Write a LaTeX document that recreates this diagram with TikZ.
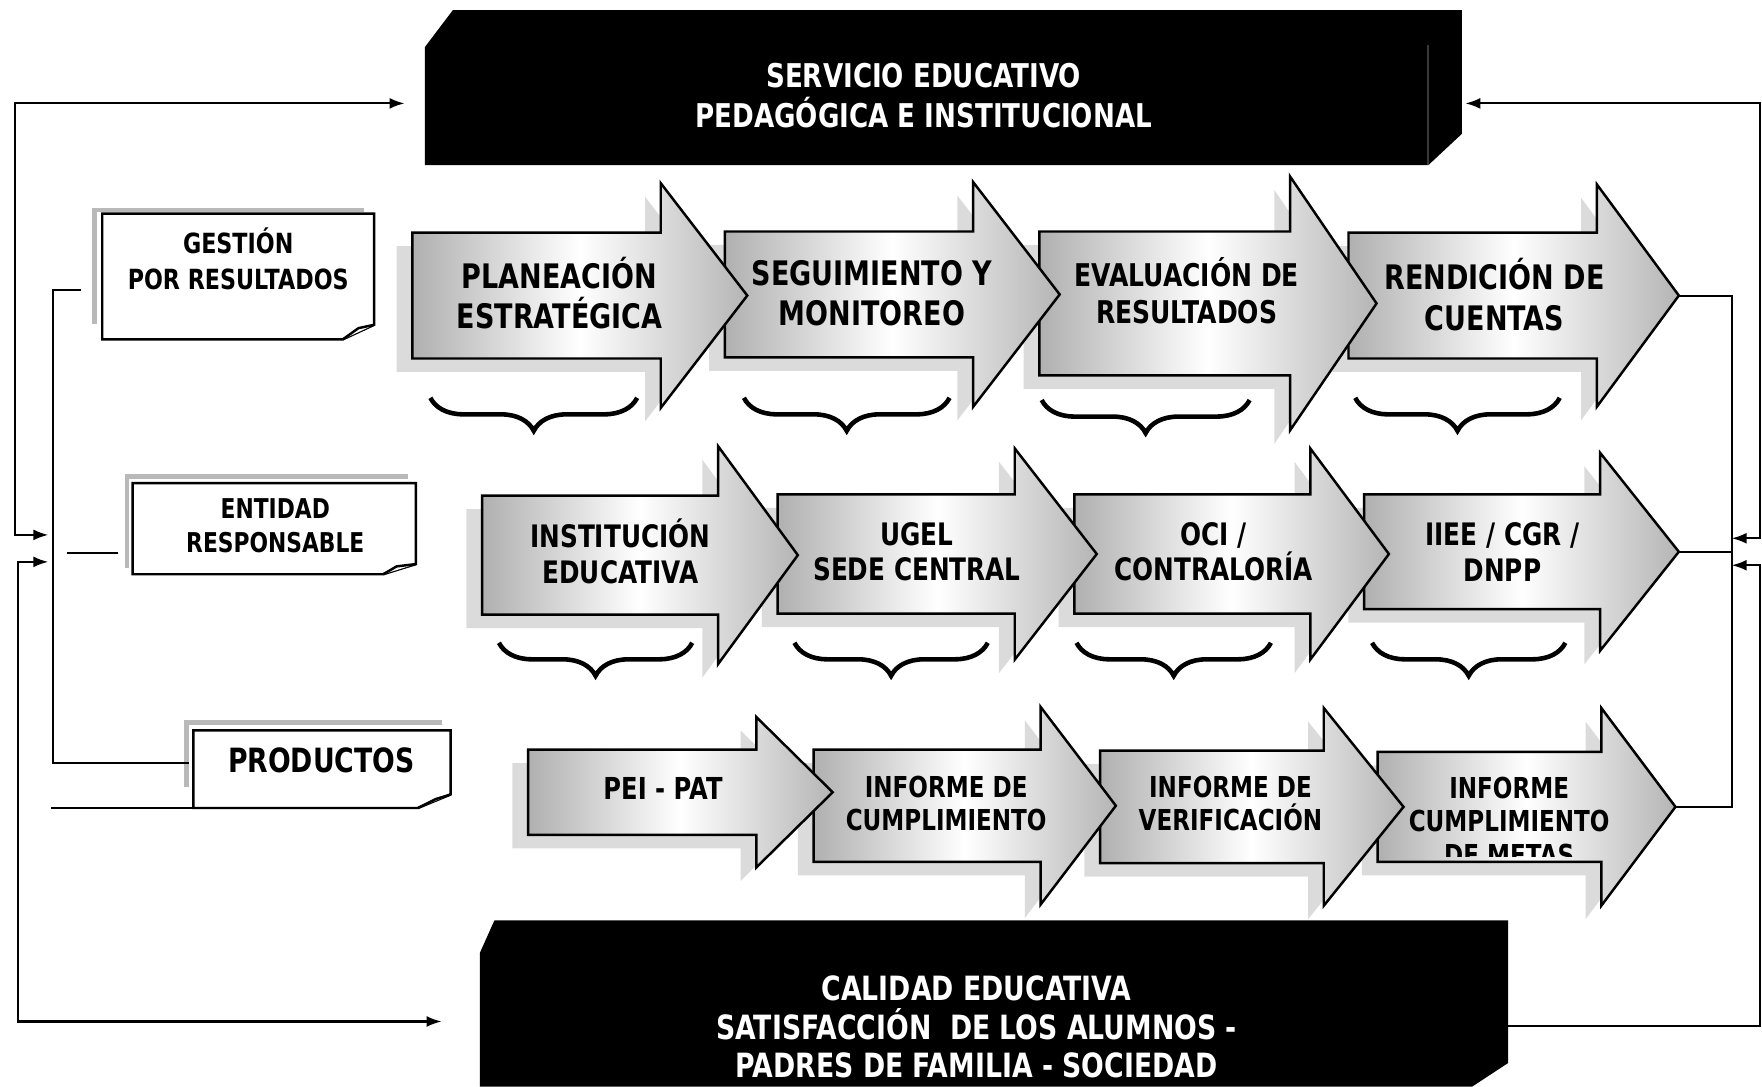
\documentclass[tikz,border=0pt]{standalone}
\usepackage{fontspec}
\setmainfont{DejaVu Sans}[FakeStretch=0.8]
\usetikzlibrary{arrows.meta,decorations.pathreplacing}

% block arrow: name, shaft left, head base, tip, mid y, shaft half, head half
\newcommand{\chevron}[7]{%
  \fill[chevshadow] (#2,{#5-#6}) -- (#3,{#5-#6}) -- (#3,{#5-#7}) -- (#4,#5) -- (#3,{#5+#7}) -- (#3,{#5+#6}) -- (#2,{#5+#6}) -- cycle;
  \draw[chevbody] (#2,{#5-#6}) -- (#3,{#5-#6}) -- (#3,{#5-#7}) -- (#4,#5) -- (#3,{#5+#7}) -- (#3,{#5+#6}) -- (#2,{#5+#6}) -- cycle;
  \coordinate (#1) at (#4,#5);
}

\begin{document}
\begin{tikzpicture}[
  x=0.011237cm, y=-0.011237cm,
  >={Latex[length=1.5mm,width=1.1mm]},
  chevshadow/.style={fill=gray!28, shift={(-14,12)}},
  chevbody/.style={draw=black, line width=0.7pt, left color=gray!62, right color=gray!58, middle color=white},
  blackbox/.style={fill=black},
  notebox/.style={draw=black, line width=0.7pt, fill=white},
  noteshadow/.style={draw=gray!55, line width=1.2pt},
  link/.style={line width=0.6pt},
  curly/.style={decorate, decoration={brace, mirror, amplitude=0.33cm}, line width=1.3pt},
  lbl/.style={inner sep=0pt, align=center, font=\bfseries},
  whitelbl/.style={lbl, text=white},
  rowone/.style={lbl, font=\fontsize{9.6}{11.5}\selectfont\bfseries},
  rowtwo/.style={lbl, font=\fontsize{8.8}{10.2}\selectfont\bfseries},
  rowthree/.style={lbl, font=\fontsize{8.2}{9.6}\selectfont\bfseries}
]
\useasboundingbox (0,0) rectangle (1568,967);

% black boxes
\fill[blackbox] (378,147) -- (378,42) -- (403,9) -- (1301,9) -- (1301,119) -- (1271,147) -- cycle;
\draw[gray!45!black, line width=0.6pt] (1271,40) -- (1271,147);
\fill[blackbox] (427,967) -- (427,848) -- (440,819) -- (1342,819) -- (1342,946) -- (1310,967) -- cycle;
\node[whitelbl, font=\fontsize{9.3}{11.2}\selectfont\bfseries] (servicio) at (822,85) {SERVICIO EDUCATIVO\\PEDAGÓGICA E INSTITUCIONAL};
\node[whitelbl, font=\fontsize{9.5}{11}\selectfont\bfseries] (calidad) at (869,914) {CALIDAD EDUCATIVA\\SATISFACCIÓN~~DE LOS ALUMNOS -\\PADRES DE FAMILIA - SOCIEDAD};

% row 1
\chevron{rendiT}{1200}{1421}{1494}{263}{56}{99}
\chevron{evaluT}{925}{1148}{1225}{270}{64}{113}
\chevron{seguiT}{645}{866}{943}{262}{56}{100}
\chevron{planT}{367}{588}{665}{263}{56}{100}
\node[rowone] (plan) at (498,261) {PLANEACIÓN\\ESTRATÉGICA};
\node[rowone] (segui) at (776,261) {SEGUIMIENTO Y\\MONITOREO};
\node[lbl, font=\fontsize{8.9}{10.5}\selectfont\bfseries] (evalu) at (1056,259) {EVALUACIÓN DE\\RESULTADOS};
\node[rowone] (rendi) at (1330,262) {RENDICIÓN DE\\CUENTAS};

% row 2
\chevron{iieeT}{1214}{1424}{1494}{491}{51}{88}
\chevron{ociT}{956}{1166}{1236}{493}{53}{94}
\chevron{ugelT}{692}{903}{976}{493}{53}{94}
\chevron{instT}{429}{639}{710}{494}{53}{97}
\node[rowtwo] (inst) at (552,491) {INSTITUCIÓN\\EDUCATIVA};
\node[rowtwo] (ugel) at (816,491) {UGEL\\SEDE CENTRAL};
\node[rowtwo] (oci) at (1080,491) {OCI /\\CONTRALORÍA};
\node[rowtwo] (iiee) at (1337,491) {IIEE / CGR /\\DNPP};

% row 3
\chevron{infmT}{1226}{1425}{1491}{718}{49}{88}
\chevron{infvT}{979}{1178}{1249}{718}{50}{88}
\chevron{infcT}{724}{926}{993}{717}{50}{88}
\chevron{peiT}{470}{673}{741}{705}{38}{67}
\node[rowthree, font=\fontsize{8.6}{9.6}\selectfont\bfseries] (pei) at (590,702) {PEI - PAT};
\node[rowthree] (infc) at (842,715) {INFORME DE\\CUMPLIMIENTO};
\node[rowthree] (infv) at (1095,715) {INFORME DE\\VERIFICACIÓN};
\begin{scope}
  \clip (1230,650) rectangle (1460,762);
  \node[rowthree] (infm) at (1343,731) {INFORME\\CUMPLIMIENTO\\DE METAS};
\end{scope}

% braces
\draw[curly] (383,354) -- (567,354);
\draw[curly] (662,354) -- (845,354);
\draw[curly] (927,356) -- (1112,356);
\draw[curly] (1206,354) -- (1388,354);
\draw[curly] (444,572) -- (616,572);
\draw[curly] (707,572) -- (879,572);
\draw[curly] (958,572) -- (1131,572);
\draw[curly] (1221,572) -- (1393,572);

% label notes
\draw[noteshadow] (84,288) -- (84,187) -- (324,187);
\draw[notebox] (91,190) -- (333,190) -- (333,289) -- (305,302) -- (91,302) -- cycle;
\draw[notebox] (305,302) -- (319,292) -- (333,289);
\node[lbl, font=\fontsize{7.9}{10.2}\selectfont\bfseries] (gestion) at (212,230) {GESTIÓN\\POR RESULTADOS};

\draw[noteshadow] (113,505) -- (113,424) -- (363,424);
\draw[notebox] (118,430) -- (370,430) -- (370,502) -- (341,511) -- (118,511) -- cycle;
\draw[notebox] (341,511) -- (353,504) -- (370,502);
\node[lbl, font=\fontsize{7.75}{9.6}\selectfont\bfseries] (entidad) at (245,468) {ENTIDAD\\RESPONSABLE};

\draw[noteshadow] (166,700) -- (166,643) -- (393,643);
\draw[notebox] (172,650) -- (401,650) -- (401,707) -- (372,719) -- (172,719) -- cycle;
\draw[notebox] (372,719) -- (388,711) -- (401,707);
\node[lbl, font=\fontsize{9.5}{11}\selectfont\bfseries] (productos) at (286,677) {PRODUCTOS};

% connector ends
\coordinate (srvL) at (360,92);
\coordinate (srvR) at (1304,92);
\coordinate (calL) at (393,909);
\coordinate (calR) at (1342,913);
\coordinate (jL1) at (43,476);
\coordinate (jL2) at (43,500);
\coordinate (jR1) at (1541,479);
\coordinate (jR2) at (1541,503);
\coordinate (gesW) at (72,258);
\coordinate (entW) at (105,492);
\coordinate (proW) at (168,679);
\coordinate (proS) at (172,719);

% left side
\draw[link,<->] (jL1) -- (13,476) |- (srvL);
\draw[link,<->] (jL2) -- (16,500) |- (calL);
\draw[link] (gesW) -- (47,258) |- (proW);
\draw[link] (60,492) -- (entW);
\draw[link] (45,719) -- (proS);

% right side
\draw[link] (rendiT) -- (1541,263) |- (infmT);
\draw[link] (iieeT) -- (1541,491);
\draw[link,<->] (srvR) -| (1566,479) -- (jR1);
\draw[link,->] (calR) -| (1566,503) -- (jR2);
\end{tikzpicture}
\end{document}
